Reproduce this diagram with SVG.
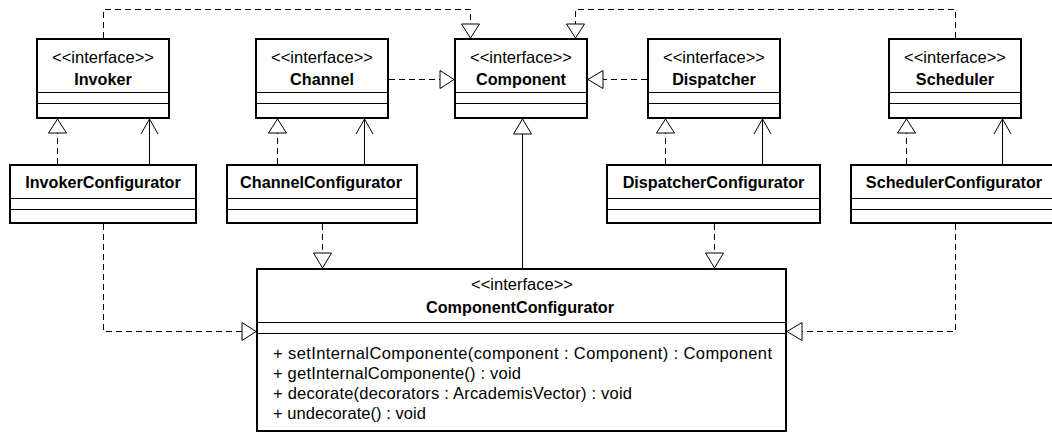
<svg xmlns="http://www.w3.org/2000/svg" width="1052" height="432" viewBox="0 0 1052 432">
<style>
.box{fill:#fff;stroke:#000;stroke-width:2}
.sep{stroke:#000;stroke-width:1;fill:none}
.dash{stroke:#000;stroke-width:1;fill:none;stroke-dasharray:6,4}
.solid{stroke:#000;stroke-width:1;fill:none}
.tri{fill:#fff;stroke:#000;stroke-width:1}
.st{font-family:"Liberation Sans",Arial,sans-serif;font-size:16.5px;fill:#000;text-anchor:middle}
.nm{font-family:"Liberation Sans",Arial,sans-serif;font-size:16.2px;font-weight:bold;fill:#000;text-anchor:middle}
.op{font-family:"Liberation Sans",Arial,sans-serif;font-size:16.5px;fill:#000}
</style>
<rect width="1052" height="432" fill="#fff"/>

<g id="connectors">
  <!-- Invoker -> Component (realization) -->
  <path class="dash" d="M103.5,38 V9.5 H470.5 V24"/>
  <polygon class="tri" points="461.5,24 479.5,24 470.5,38"/>
  <!-- Scheduler -> Component -->
  <path class="dash" d="M955.5,38 V9.5 H575.5 V24"/>
  <polygon class="tri" points="566.5,24 584.5,24 575.5,38"/>
  <!-- Channel -> Component -->
  <path class="dash" d="M389,79.5 H440"/>
  <polygon class="tri" points="440,70.5 440,88.5 454,79.5"/>
  <!-- Dispatcher -> Component -->
  <path class="dash" d="M647,79.5 H603"/>
  <polygon class="tri" points="603,70.5 603,88.5 588,79.5"/>

  <!-- InvokerConfigurator -> Invoker -->
  <path class="dash" d="M57.5,164 V133"/>
  <polygon class="tri" points="48.5,133 66.5,133 57.5,119"/>
  <path class="solid" d="M149.5,164 V119 M141,134 L149.5,119 L158,134"/>
  <!-- ChannelConfigurator -> Channel -->
  <path class="dash" d="M277.5,164 V133"/>
  <polygon class="tri" points="268.5,133 286.5,133 277.5,119"/>
  <path class="solid" d="M364.5,164 V119 M356,134 L364.5,119 L373,134"/>
  <!-- DispatcherConfigurator -> Dispatcher -->
  <path class="dash" d="M665.5,164 V133"/>
  <polygon class="tri" points="656.5,133 674.5,133 665.5,119"/>
  <path class="solid" d="M762.5,164 V119 M754,134 L762.5,119 L771,134"/>
  <!-- SchedulerConfigurator -> Scheduler -->
  <path class="dash" d="M906.5,164 V133"/>
  <polygon class="tri" points="897.5,133 915.5,133 906.5,119"/>
  <path class="solid" d="M1002.5,164 V119 M994,134 L1002.5,119 L1011,134"/>

  <!-- ComponentConfigurator -> Component (generalization) -->
  <path class="solid" d="M522.5,268 V134"/>
  <polygon class="tri" points="513.5,134 531.5,134 522.5,119"/>

  <!-- Configurators -> ComponentConfigurator -->
  <path class="dash" d="M103.5,224 V331.5 H242"/>
  <polygon class="tri" points="242,322.5 242,340.5 256,331.5"/>
  <path class="dash" d="M322.5,224 V253"/>
  <polygon class="tri" points="313.5,253 331.5,253 322.5,268"/>
  <path class="dash" d="M714.5,224 V253"/>
  <polygon class="tri" points="705.5,253 723.5,253 714.5,268"/>
  <path class="dash" d="M955.5,224 V331.5 H802"/>
  <polygon class="tri" points="802,322.5 802,340.5 787,331.5"/>
</g>

<g id="Invoker">
  <rect class="box" x="37" y="39" width="132" height="79"/>
  <path class="sep" d="M37,92.5 H169 M37,103.5 H169"/>
  <text class="st" x="103" y="63">&lt;&lt;interface&gt;&gt;</text>
  <text class="nm" x="103" y="85">Invoker</text>
</g>
<g id="Channel">
  <rect class="box" x="256" y="39" width="132" height="79"/>
  <path class="sep" d="M256,92.5 H388 M256,103.5 H388"/>
  <text class="st" x="322" y="63">&lt;&lt;interface&gt;&gt;</text>
  <text class="nm" x="322" y="85">Channel</text>
</g>
<g id="Component">
  <rect class="box" x="455" y="39" width="132" height="79"/>
  <path class="sep" d="M455,92.5 H587 M455,103.5 H587"/>
  <text class="st" x="521" y="63">&lt;&lt;interface&gt;&gt;</text>
  <text class="nm" x="521" y="85">Component</text>
</g>
<g id="Dispatcher">
  <rect class="box" x="648" y="39" width="132" height="79"/>
  <path class="sep" d="M648,92.5 H780 M648,103.5 H780"/>
  <text class="st" x="714" y="63">&lt;&lt;interface&gt;&gt;</text>
  <text class="nm" x="714" y="85">Dispatcher</text>
</g>
<g id="Scheduler">
  <rect class="box" x="889" y="39" width="132" height="79"/>
  <path class="sep" d="M889,92.5 H1021 M889,103.5 H1021"/>
  <text class="st" x="955" y="63">&lt;&lt;interface&gt;&gt;</text>
  <text class="nm" x="955" y="85">Scheduler</text>
</g>

<g id="InvokerConfigurator">
  <rect class="box" x="10" y="165" width="186" height="58"/>
  <path class="sep" d="M10,198.5 H196 M10,209.5 H196"/>
  <text class="nm" x="103" y="188">InvokerConfigurator</text>
</g>
<g id="ChannelConfigurator">
  <rect class="box" x="227" y="165" width="190" height="58"/>
  <path class="sep" d="M227,198.5 H417 M227,209.5 H417"/>
  <text class="nm" x="321" y="188">ChannelConfigurator</text>
</g>
<g id="DispatcherConfigurator">
  <rect class="box" x="607" y="165" width="213" height="58"/>
  <path class="sep" d="M607,198.5 H820 M607,209.5 H820"/>
  <text class="nm" x="713.5" y="188">DispatcherConfigurator</text>
</g>
<g id="SchedulerConfigurator">
  <rect class="box" x="851" y="165" width="210" height="58"/>
  <path class="sep" d="M851,198.5 H1061 M851,209.5 H1061"/>
  <text class="nm" x="954" y="188">SchedulerConfigurator</text>
</g>

<g id="ComponentConfigurator">
  <rect class="box" x="257" y="269" width="529" height="162"/>
  <path class="sep" d="M257,322.5 H786 M257,333.5 H786"/>
  <text class="st" x="522" y="290">&lt;&lt;interface&gt;&gt;</text>
  <text class="nm" x="520" y="313">ComponentConfigurator</text>
  <text class="op" x="273" y="359" textLength="499" lengthAdjust="spacing">+ setInternalComponente(component : Component) : Component</text>
  <text class="op" x="273" y="379" textLength="248" lengthAdjust="spacing">+ getInternalComponente() : void</text>
  <text class="op" x="273" y="399" textLength="359" lengthAdjust="spacing">+ decorate(decorators : ArcademisVector) : void</text>
  <text class="op" x="273" y="419" textLength="153" lengthAdjust="spacing">+ undecorate() : void</text>
</g>
</svg>
